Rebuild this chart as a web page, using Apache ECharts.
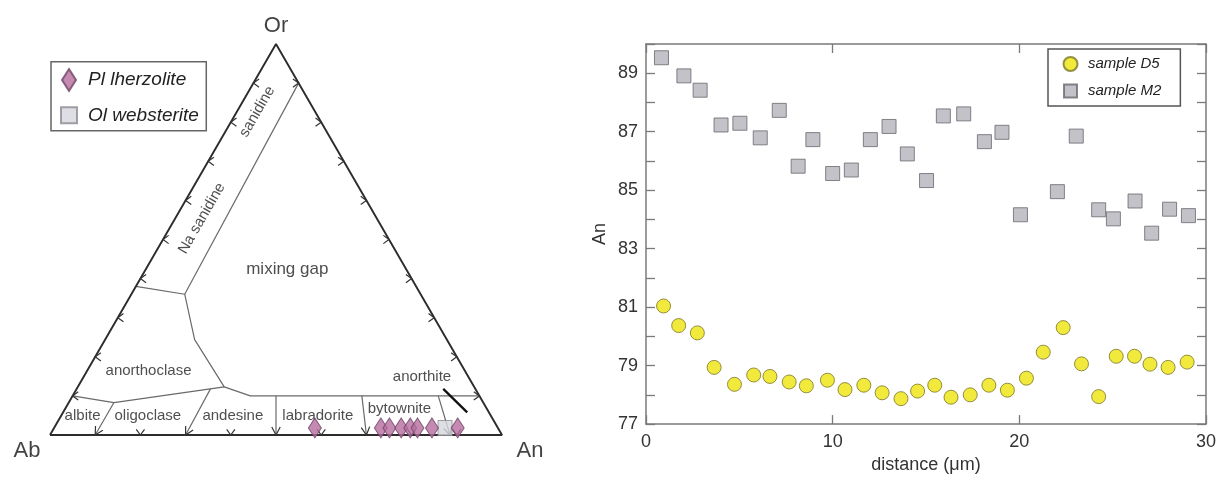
<!DOCTYPE html>
<html>
<head>
<meta charset="utf-8">
<title>Plagioclase compositions</title>
<script src="https://cdn.jsdelivr.net/npm/echarts@6/dist/echarts.min.js"></script>
<style>
  html, body { margin: 0; padding: 0; background: #ffffff; }
  #chart { width: 1219px; height: 479px; }
</style>
</head>
<body>
<div id="chart"></div>
<script>
// ---------- Feldspar ternary (compositions given as [An, Or]; Ab = 100 - An - Or) ----------
const vertexNames = ['Ab', 'An', 'Or'];
const vertexAt = [[0, 0], [100, 0], [0, 100]];

const ternaryTicks = [10, 20, 30, 40, 50, 60, 70, 80, 90];

// field boundaries
const plagioclaseTop = [[0, 10], [10, 8.3], [32.4, 12.3], [39.3, 10], [90, 10]];
const anorthoclaseEdge = [[32.4, 12.3], [19.8, 24.4], [11.8, 36], [0, 38]];
const sanidineEdge = [[11.8, 36], [10, 90]];
// plagioclase dividers, drawn from the upper boundary down to the Ab-An join
const plagioclaseDividers = [
  [[10, 8.3], [10, 0]],
  [[29.6, 11.8], [30, 0]],
  [[45, 10], [50, 0]],
  [[64, 10], [70, 0]],
  [[80.9, 10], [88.5, 0]]
];
const anorthitePointer = [[81.1, 11.8], [89.4, 5.8]];

const fieldLabelNames = ['albite', 'oligoclase', 'andesine', 'labradorite', 'bytownite',
  'anorthite', 'anorthoclase', 'mixing gap', 'Na sanidine', 'sanidine'];
const fieldLabelAt = [[4.75, 4.9], [19.2, 4.9], [38, 4.9], [56.8, 4.9], [74, 6.6],
  [74.9, 14.8], [13.6, 16.4], [31.3, 42.4], [5.9, 55.4], [4.5, 82.7]];

// analysed plagioclase
const plLherzolite = [[57.7, 1.8], [72.3, 1.8], [74.2, 1.8], [76.8, 1.8], [78.8, 1.8], [80.4, 1.8], [83.6, 1.8], [89.3, 1.8]];
const olWebsterite = [[86.5, 1.8]];

// ---------- An profile along the traverse ----------
const distanceD5 = [0.94, 1.75, 2.75, 3.65, 4.74, 5.77, 6.64, 7.67, 8.59, 9.72, 10.66, 11.67, 12.65, 13.66, 14.55,
  15.47, 16.34, 17.37, 18.37, 19.36, 20.38, 21.28, 22.35, 23.33, 24.25, 25.19, 26.17, 27.0, 27.97, 28.99];
const anD5 = [81.04, 80.37, 80.12, 78.94, 78.36, 78.68, 78.63, 78.44, 78.31, 78.5, 78.18, 78.33, 78.07, 77.87, 78.13,
  78.33, 77.92, 78.0, 78.33, 78.16, 78.57, 79.46, 80.3, 79.06, 77.94, 79.32, 79.32, 79.05, 78.94, 79.12];

const distanceM2 = [0.83, 2.03, 2.9, 4.02, 5.03, 6.12, 7.14, 8.15, 8.94, 10.0, 11.0, 12.02, 13.02, 14.0,
  15.03, 15.93, 17.02, 18.13, 19.07, 20.06, 22.04, 23.05, 24.25, 25.04, 26.2, 27.09, 28.05, 29.06];
const anM2 = [89.53, 88.91, 88.42, 87.23, 87.29, 86.79, 87.73, 85.82, 86.73, 85.57, 85.69, 86.73, 87.18, 86.24,
  85.33, 87.54, 87.61, 86.66, 86.98, 84.16, 84.95, 86.85, 84.33, 84.02, 84.63, 83.53, 84.35, 84.13];

// ---------- helpers ----------
const FONT = "'Liberation Sans', Arial, Helvetica, sans-serif";
const toCart = p => [p[0] + p[1] / 2, p[1]];      // [An, Or] -> plane of an equilateral triangle
const labelStyle = {
  'mixing gap': { fontSize: 17 },
  'Na sanidine': { rotate: 60 },
  'sanidine': { rotate: 60 }
};
const vertexOffset = { Ab: [-23, 16], An: [28, 16], Or: [0, -18] };

const lineSeries = (pts, style, z) => ({
  type: 'line', xAxisIndex: 0, yAxisIndex: 0,
  data: pts.map(toCart), symbol: 'none', silent: true, z: z || 2,
  lineStyle: style, animation: false
});

// tick chevrons along the three sides plus arrowheads where dividers meet Ab-An
const dividerFeet = plagioclaseDividers.map(d => d[d.length - 1][0]);
const tickItems = [];
ternaryTicks.forEach(t => {
  if (!dividerFeet.includes(t)) {
    const b = toCart([t, 0]);
    tickItems.push([b[0], b[1], b[0], b[1] + 3, 0]);
  }
  const l = toCart([0, t]);
  tickItems.push([l[0], l[1], l[0] + 3, l[1], 0]);
  const r = toCart([100 - t, t]);
  tickItems.push([r[0], r[1], r[0] - 3, r[1], 0]);
});
plagioclaseDividers.forEach(d => {
  const a = toCart(d[d.length - 2]), b = toCart(d[d.length - 1]);
  tickItems.push([b[0], b[1], a[0], a[1], 1]);
});

function renderChevron(params, api) {
  const tip = api.coord([api.value(0), api.value(1)]);
  const from = api.coord([api.value(2), api.value(3)]);
  const big = api.value(4) === 1;
  const L = big ? 9 : 7;
  const th = (big ? 28 : 36) * Math.PI / 180;
  let dx = tip[0] - from[0], dy = tip[1] - from[1];
  const n = Math.hypot(dx, dy) || 1;
  dx /= n; dy /= n;
  const arm = s => {
    const c = Math.cos(s * th), si = Math.sin(s * th);
    const rx = dx * c - dy * si, ry = dx * si + dy * c;
    return [tip[0] - L * rx, tip[1] - L * ry];
  };
  return {
    type: 'polyline',
    shape: { points: [arm(1), tip, arm(-1)] },
    style: { stroke: '#333', lineWidth: 1.2, fill: null }
  };
}

const boundaryStyle = { color: '#6a6a6a', width: 1.2 };
const frameLine = { onZero: false, lineStyle: { color: '#7a7a7a', width: 1.5 } };
const frameTick = { show: true, inside: true, length: 9, lineStyle: { color: '#7a7a7a', width: 1.3 } };

const option = {
  animation: false,
  backgroundColor: '#ffffff',
  textStyle: { fontFamily: FONT },
  grid: [
    { left: 50, top: 44, width: 452, height: 391 },
    { left: 646, top: 44, right: 11.3, bottom: 43.3 }
  ],
  xAxis: [
    { gridIndex: 0, type: 'value', min: 0, max: 100, show: false },
    {
      gridIndex: 1, type: 'value', min: 0, max: 30, interval: 10, position: 'bottom',
      axisLine: frameLine, axisTick: frameTick,
      axisLabel: { margin: 9, fontSize: 18, color: '#333', fontFamily: FONT },
      splitLine: { show: false },
      name: 'distance (\u03bcm)', nameLocation: 'middle', nameGap: 27,
      nameTextStyle: { fontSize: 18, color: '#333', fontFamily: FONT }
    },
    {
      gridIndex: 1, type: 'value', min: 0, max: 30, interval: 10, position: 'top',
      axisLine: frameLine, axisTick: frameTick,
      axisLabel: { show: false }, splitLine: { show: false }
    }
  ],
  yAxis: [
    { gridIndex: 0, type: 'value', min: 0, max: 100, show: false },
    {
      gridIndex: 1, type: 'value', min: 77, max: 90, interval: 1, position: 'left',
      axisLine: Object.assign({ show: true }, frameLine), axisTick: frameTick,
      axisLabel: {
        margin: 8, fontSize: 18, color: '#333', fontFamily: FONT,
        formatter: v => (v % 2 === 1 && v < 90) ? String(v) : ''
      },
      splitLine: { show: false },
      name: 'An', nameLocation: 'middle', nameGap: 37, nameRotate: 90,
      nameTextStyle: { fontSize: 18, color: '#333', fontFamily: FONT }
    },
    {
      gridIndex: 1, type: 'value', min: 77, max: 90, interval: 1, position: 'right',
      axisLine: Object.assign({ show: true }, frameLine), axisTick: frameTick,
      axisLabel: { show: false }, splitLine: { show: false }
    }
  ],
  legend: [
    {
      data: [
        { name: 'Pl lherzolite', icon: 'path://M0,0M28,22M14,0L21,11L14,22L7,11Z' },
        { name: 'Ol websterite', icon: 'path://M0,0M28,22M6,3H22V19H6Z' }
      ],
      orient: 'vertical', left: 51, top: 61.7,
      itemWidth: 28, itemHeight: 22, itemGap: 11.3,
      padding: [6.3, 7.4, 3.4, 3],
      borderColor: '#666', borderWidth: 1.5,
      selectedMode: false,
      textStyle: { fontStyle: 'italic', fontSize: 19, color: '#222', fontFamily: FONT }
    },
    {
      data: [
        { name: 'sample D5', icon: 'circle' },
        { name: 'sample M2', icon: 'path://M0,0M25,14M6,0.5H19V13.5H6Z' }
      ],
      orient: 'vertical', left: 1048, top: 49,
      itemWidth: 25, itemHeight: 14, itemGap: 11,
      padding: [7, 19, 7, 9],
      borderColor: '#555', borderWidth: 1.5,
      selectedMode: false,
      textStyle: { fontStyle: 'italic', fontSize: 15, color: '#222', fontFamily: FONT }
    }
  ],
  series: [
    // triangle
    lineSeries([vertexAt[0], vertexAt[1], vertexAt[2], vertexAt[0]], { color: '#2c2c2c', width: 1.9 }, 3),
    lineSeries(plagioclaseTop, boundaryStyle),
    lineSeries(anorthoclaseEdge, boundaryStyle),
    lineSeries(sanidineEdge, boundaryStyle),
    ...plagioclaseDividers.map(d => lineSeries(d, boundaryStyle)),
    lineSeries(anorthitePointer, { color: '#111', width: 2.3 }, 3),
    {
      type: 'custom', xAxisIndex: 0, yAxisIndex: 0, silent: true, z: 4,
      renderItem: renderChevron, data: tickItems
    },
    {
      type: 'scatter', xAxisIndex: 0, yAxisIndex: 0, silent: true, z: 5,
      symbolSize: 1, itemStyle: { color: 'rgba(0,0,0,0)' },
      data: fieldLabelNames.map((n, i) => ({
        name: n, value: toCart(fieldLabelAt[i]),
        label: Object.assign({}, labelStyle[n] || {})
      })),
      label: { show: true, position: 'inside', formatter: '{b}', fontSize: 15, color: '#222', fontFamily: FONT }
    },
    {
      type: 'scatter', xAxisIndex: 0, yAxisIndex: 0, silent: true, z: 5, clip: false,
      symbolSize: 1, itemStyle: { color: 'rgba(0,0,0,0)' },
      data: vertexNames.map((n, i) => ({
        name: n, value: toCart(vertexAt[i]), label: { offset: vertexOffset[n] }
      })),
      label: { show: true, position: 'inside', formatter: '{b}', fontSize: 22, color: '#111', fontFamily: FONT }
    },
    {
      name: 'Pl lherzolite', type: 'scatter', xAxisIndex: 0, yAxisIndex: 0, z: 10,
      symbol: 'diamond', symbolSize: [13, 20],
      itemStyle: { color: '#b56d9e', borderColor: '#6e4466', borderWidth: 1 },
      data: plLherzolite.map(toCart)
    },
    {
      name: 'Ol websterite', type: 'scatter', xAxisIndex: 0, yAxisIndex: 0, z: 9,
      symbol: 'rect', symbolSize: [14, 15],
      itemStyle: { color: '#d6d6de', borderColor: '#8a8a90', borderWidth: 1 },
      data: olWebsterite.map(toCart)
    },
    {
      name: 'sample M2', type: 'scatter', xAxisIndex: 1, yAxisIndex: 1, z: 10,
      symbol: 'rect', symbolSize: 14,
      itemStyle: { color: '#b3b3ba', borderColor: '#68686e', borderWidth: 1 },
      data: distanceM2.map((d, i) => [d, anM2[i]])
    },
    {
      name: 'sample D5', type: 'scatter', xAxisIndex: 1, yAxisIndex: 1, z: 10,
      symbol: 'circle', symbolSize: 14,
      itemStyle: { color: '#efe30c', borderColor: '#7a7626', borderWidth: 1 },
      data: distanceD5.map((d, i) => [d, anD5[i]])
    }
  ]
};

const chart = echarts.init(document.getElementById('chart'), null, { renderer: 'canvas' });
chart.setOption(option);
</script>
</body>
</html>
